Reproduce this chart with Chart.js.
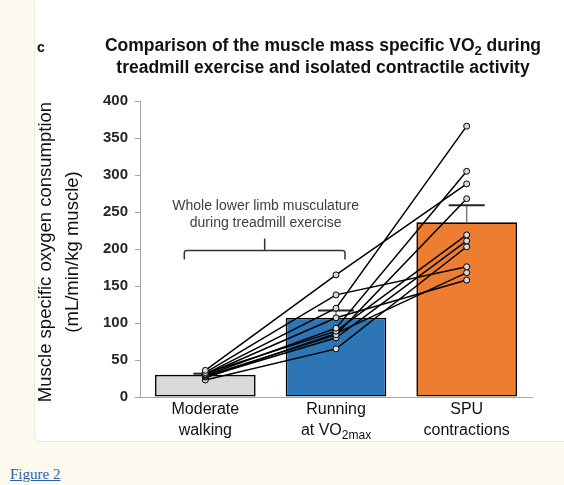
<!DOCTYPE html>
<html>
<head>
<meta charset="utf-8">
<script src="https://cdn.jsdelivr.net/npm/chart.js"></script>
<style>
  html, body { margin: 0; padding: 0; background: #fdfaf0; }
  #panel {
    position: absolute; left: 34px; top: -4px; width: 540px; height: 444px;
    background: #fff; border: 1px solid #efe9dc; border-radius: 6px;
  }
  #fig {
    position: absolute; left: 10px; top: 466px;
    font: 15px "Liberation Serif", serif; color: #2f5fa6; text-decoration: underline;
  }
  canvas { position: absolute; left: 0; top: 0; }
</style>
</head>
<body>
<div id="panel"></div>
<div id="fig">Figure 2</div>
<canvas id="chart" width="564" height="485"></canvas>
<script>
// bars: group means with the top of their error bars
const categories = ["Moderate walking", "Running at VO2max", "SPU contractions"];
const meanValues = [30, 107, 236];
const errorTops = [31.5, 117, 259];
const yTicks = [0, 50, 100, 150, 200, 250, 300, 350, 400];

// one entry per subject (walking -> running -> SPU)
const walking = [36, 33, 31, 30, 29, 32, 28, 27, 23, 26];
const running = [165, 138, 120, 107, 93, 89, 84, 80, 65, 86];
const spu = [288, 176, 366, 158, 305, 219, 268, 211, 203, 168];

const barColors = ["#d9d9d9", "#2e75b6", "#ed7d31"];

const subjectSets = walking.map((w, i) => ({
  type: "line",
  data: [w, running[i], spu[i]],
  borderColor: "#000",
  borderWidth: 1.5,
  pointRadius: 3,
  pointBackgroundColor: "#d9d9d9",
  pointBorderColor: "#000",
  pointBorderWidth: 1,
  order: 1,
}));

// draws text with a lowered small part, centred on cx
function subText(ctx, parts, cx, cy, size) {
  const big = size + "px 'Liberation Sans', Arial";
  const small = Math.round(size * 0.72) + "px 'Liberation Sans', Arial";
  const bold = parts.bold ? "bold " : "";
  let total = 0;
  parts.items.forEach((p) => {
    ctx.font = bold + (p.sub ? small : big);
    p.w = ctx.measureText(p.t).width;
    total += p.w;
  });
  let sx = cx - total / 2;
  ctx.textAlign = "left";
  parts.items.forEach((p) => {
    ctx.font = bold + (p.sub ? small : big);
    ctx.fillText(p.t, sx, cy + (p.sub ? size * 0.3 : 0));
    sx += p.w;
  });
  ctx.textAlign = "center";
}

const extras = {
  id: "extras",
  afterDatasetDraw(chart, args) {
    if (args.index !== 0) return;
    const ctx = chart.ctx, x = chart.scales.x, y = chart.scales.y;
    const capHalf = [12, 18, 18];
    ctx.save();
    meanValues.forEach((m, i) => {
      const cx = x.getPixelForValue(i);
      const y0 = y.getPixelForValue(m), y1 = y.getPixelForValue(errorTops[i]);
      ctx.strokeStyle = "#7f7f7f";
      ctx.lineWidth = 1.5;
      ctx.beginPath(); ctx.moveTo(cx, y0); ctx.lineTo(cx, y1); ctx.stroke();
      ctx.strokeStyle = "#262626";
      ctx.lineWidth = 2;
      ctx.beginPath(); ctx.moveTo(cx - capHalf[i], y1); ctx.lineTo(cx + capHalf[i], y1); ctx.stroke();
    });
    ctx.restore();
  },
  afterDraw(chart) {
    const ctx = chart.ctx, x = chart.scales.x, y = chart.scales.y, a = chart.chartArea;
    ctx.save();
    ctx.fillStyle = "#111";
    ctx.textAlign = "center";
    ctx.textBaseline = "middle";

    // title
    subText(ctx, { bold: true, items: [
      { t: "Comparison of the muscle mass specific VO" }, { t: "2", sub: true }, { t: " during" },
    ] }, 323, 46, 17.5);
    ctx.font = "bold 17.5px 'Liberation Sans', Arial";
    ctx.fillText("treadmill exercise and isolated contractile activity", 323, 68);
    ctx.font = "bold 14px 'Liberation Sans', Arial";
    ctx.fillText("c", 41, 48);

    // y axis title
    ctx.save();
    ctx.translate(46, 252);
    ctx.rotate(-Math.PI / 2);
    ctx.font = "18.5px 'Liberation Sans', Arial";
    ctx.fillText("Muscle specific oxygen consumption", 0, 0);
    ctx.fillText("(mL/min/kg muscle)", 0, 27);
    ctx.restore();

    // x category labels
    ctx.font = "16px 'Liberation Sans', Arial";
    const ly1 = a.bottom + 13, ly2 = a.bottom + 34;
    ctx.fillText("Moderate", x.getPixelForValue(0), ly1);
    ctx.fillText("walking", x.getPixelForValue(0), ly2);
    ctx.fillText("Running", x.getPixelForValue(1), ly1);
    ctx.fillText("SPU", x.getPixelForValue(2), ly1);
    ctx.fillText("contractions", x.getPixelForValue(2), ly2);
    subText(ctx, { items: [{ t: "at VO" }, { t: "2max", sub: true }] }, x.getPixelForValue(1), ly2, 16);

    // bracket annotation over walking + running
    const bl = x.getPixelForValue(0) - 21, br = x.getPixelForValue(1) + 9;
    const by = y.getPixelForValue(198), bm = (bl + br) / 2;
    ctx.strokeStyle = "#333";
    ctx.lineWidth = 1.5;
    ctx.beginPath();
    ctx.moveTo(bl, by + 9);
    ctx.lineTo(bl, by + 2);
    ctx.quadraticCurveTo(bl, by, bl + 3, by);
    ctx.lineTo(br - 3, by);
    ctx.quadraticCurveTo(br, by, br, by + 2);
    ctx.lineTo(br, by + 9);
    ctx.moveTo(bm, by);
    ctx.lineTo(bm, by - 12);
    ctx.stroke();
    ctx.fillStyle = "#404040";
    ctx.font = "14px 'Liberation Sans', Arial";
    ctx.fillText("Whole lower limb musculature", bm + 1, by - 44);
    ctx.fillText("during treadmill exercise", bm + 1, by - 27);
    ctx.restore();
  },
};

new Chart(document.getElementById("chart"), {
  type: "bar",
  data: {
    labels: categories,
    datasets: [
      {
        data: meanValues,
        backgroundColor: barColors,
        borderColor: "#000",
        borderWidth: 1.6,
        borderSkipped: false,
        barPercentage: 0.77,
        categoryPercentage: 1,
        order: 2,
      },
      ...subjectSets,
    ],
  },
  options: {
    responsive: false,
    animation: false,
    devicePixelRatio: 1,
    layout: { padding: { top: 101, right: 32, left: 2, bottom: 0 } },
    plugins: { legend: { display: false }, tooltip: { enabled: false }, title: { display: false } },
    scales: {
      x: {
        ticks: { display: false },
        grid: { display: false },
        border: { color: "#a6a6a6", width: 1 },
        afterFit: (s) => { s.height = 88; },
      },
      y: {
        min: 0,
        max: 400,
        afterBuildTicks: (s) => { s.ticks = yTicks.map((v) => ({ value: v })); },
        ticks: {
          color: "#262626",
          padding: 7,
          font: { family: "'Liberation Sans', Arial", size: 15, weight: "bold" },
        },
        grid: { drawOnChartArea: false, tickLength: 5, color: "#a6a6a6" },
        border: { color: "#a6a6a6", width: 1 },
        afterFit: (s) => { s.width = 138; },
      },
    },
  },
  plugins: [extras],
});
</script>
</body>
</html>
